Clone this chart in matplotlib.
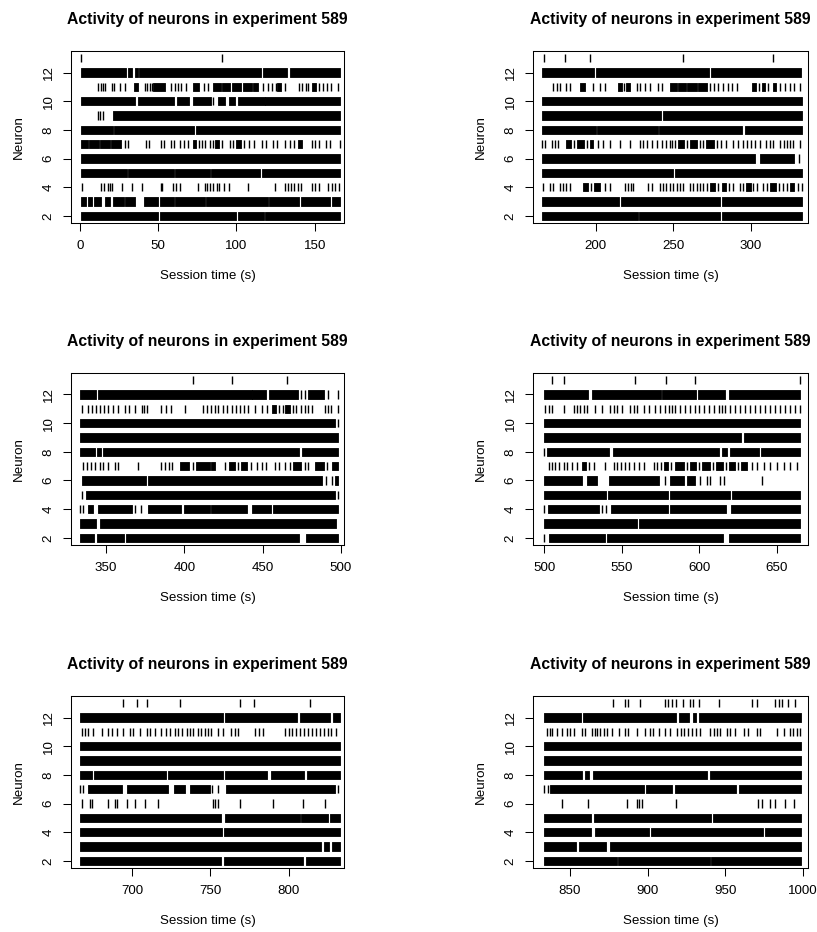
import matplotlib
matplotlib.use("Agg")
import matplotlib.pyplot as plt

plt.rcParams['font.family'] = ['Liberation Sans', 'DejaVu Sans']

# spike times (s) per neuron, one dict per session window
# a plain number is a single spike, [start, end] is a run of spikes too dense to separate
spikes_w1 = {
    13: [1.0, 90.5],
    12: [[0.5, 29.5], [30.5, 33.5], [35, 37], [38, 115.5], [117, 132.5], [134, 166]],
    11: [11.7, 13.3, 14.8, 16.2, 20.5, 22, 25.5, 29, [34.5, 37], 41.5, 43, 44.5, 46, [47, 54.5],
         58.5, 60.5, 62.5, 64.5, 68, [72, 76], 79, 81.5, [85, 90], [91, 96], [97, 103], [104, 110],
         [110.5, 114], 117, 120, 122.5, 125, [126, 128.5], 131, 140, 142, 144.5, 146, [148, 151],
         153, 155, 158, 160.7, 165],
    10: [[0.5, 35], [37, 60], [62, 70], [72, 84], 85, [88, 92.5], [95, 99], [101, 118], [118.5, 166]],
    9: [11.3, 13, 15, [21, 166]],
    8: [[0.5, 21], [22, 73], [74, 166]],
    7: [[0.5, 5], [6, 12], [13, 19], [20, 26], 28.7, 31, 42, 44, 51.5, 53.5, 58, 60, 64, 66.5, 69,
        [72, 74], 76, 78, 80, 83, 85, [86.5, 89], 91, 96, 98, [100, 103], 105, 108, 111, 116, 119,
        123.5, 126, 131, 134, 137, [139, 142], 148, 150, 153, 157.5, 160, 166],
    6: [[0.5, 166]],
    5: [[0.5, 30], [31, 60], [61, 83], [83.5, 115], [116, 166]],
    4: [1.5, 13.4, 15.1, 18.1, 19.5, 20.5, 26.6, 33.4, 39.8, 51.5, 52.5, 59.6, 61.5, 63.9, 75.6,
        79.8, 81, 83, 85, 87.5, 89, 92, 95, 107.5, 124.5, 131, 133, 135, 137, 139, 141, 148, 150,
        153, 158.5, 161, 163, 165.5],
    3: [[1, 4], [5, 8], [9, 13.5], [16, 19], [21, 28], [29, 35], [41, 50], [51, 60], [61, 80],
        [80.5, 120], [121, 140], [141, 160], [161, 166]],
    2: [[0.5, 50], [51, 100], [101, 117.5], [118.5, 166]],
}

spikes_w2 = {
    13: [166.5, 180, 196, 256.3, 314],
    12: [[165, 199], [200, 273], [274, 332.5]],
    11: [172.5, 174.6, 176.8, 181, 183.2, [189.5, 193], 198.3, 202.6, 205.8, [214.4, 216.5], 218,
         [219.5, 222], 226.2, 228.4, 231.6, 234.8, 240.2, 242.4, [247.5, 252], [253, 258],
         [259, 265], [266, 271.4], 273.5, 276, 278.9, 282.2, 285.4, 288, 290.8, [300.4, 303], 305,
         [307, 309], 311, [314.4, 316], 318.7, 322, 325, 328, 331.5],
    10: [[165, 332.7]],
    9: [[165, 242], [243, 332.7]],
    8: [[165, 200], [201, 240], [241, 294], [296, 332.7]],
    7: [165, 167, 171.4, 173.5, 175.7, [181, 184], 186, [188, 192], 194, [196, 198.3], 201.5, 204.7,
        209, 215.5, 221.9, 228.4, 230.5, 232.7, 235.9, 239.1, 242.4, 245, 247.5, 249, 251,
        [253, 257], 259, [261, 265], 267, 269, [271, 276], 278, 280.5, 284, 288.6, 291.8, 295,
        297.5, 300, 302.5, 305.8, 310, 312, 314.4, 318.7, 321, 323.5, 325.5, 327.3, 331.6],
    6: [[165, 302.5], [305.8, 328], 331],
    5: [[165, 250], [251, 332.7]],
    4: [165.6, 170.3, 172.5, 176.8, 179, 181, 183.2, [191.8, 195], 197, [199, 202.6], 205.8, 209,
        218.7, 220.5, 222.5, 224, 233.8, 236, 241.3, 243.5, 245.5, 247.7, 250, 252.5, 254.5, 256.3,
        260.6, 262.8, 265, 267, 269, 271.4, [273.5, 277], 279, [281, 284], 286, 288.6, 292.9, 295,
        [297, 300], 301.5, 303.7, 308, 310.5, [312.5, 316], 318, 320.5, 323, [325, 328], 330.5, 332.7],
    3: [[165, 215], [216, 280], [281, 332.7]],
    2: [[165, 227], [228, 280], [281, 332.7]],
}

spikes_w3 = {
    13: [405.7, 430.6, 465.4],
    12: [[333.3, 343.3], [344.8, 443], [443.5, 452.3], [454.3, 472.3], 474.8, 476.8,
         [479.3, 489.3], 491.8, 498.3],
    11: [334.4, 338.6, 341.3, 343.8, 346.3, 348.8, 351.3, 354.3, 357.8, 362, 364.8, 368.4, 372.7,
         374.3, 375.9, 385.4, 388.3, 391.8, 400.3, 412.1, 414.2, 417.3, 419.3, 421.6, 424.8, 427.3,
         430.3, 432.8, 435.3, 437.8, 440.8, 445, 449.3, 452.5, [455.7, 458.3], 460.3, 462.8,
         [464.3, 467.3], 469.3, 471.3, 474.8, 477, 479.3, 481.3, 489.7, 491.8, 494, 498.3],
    10: [[333.3, 496], 498.3],
    9: [[333.3, 498.3]],
    8: [[333.3, 343], [344.5, 347], [348, 473], [475, 498.3]],
    7: [335.4, 337.8, 340.3, 342.9, 346.1, 348.2, 351.4, 355.7, 357.8, 370.6, 385.4, 387.6, 390.3,
        392.3, [397.2, 403.3], 405.3, [407.3, 416.3], [417.3, 419.5], 425.9, [428.3, 432.3], 434.3,
        [436.3, 440.3], 442.9, 446.3, 449.3, 452.3, 457.8, 460.3, 464.2, 467.3, [469.3, 474.3],
        477, 479.3, [483.3, 489.3], 491.3, [494.3, 498.3]],
    6: [[334.4, 375.5], [376.5, 488], 490.5, 494.5, [496.5, 498.3]],
    5: [334.4, [337, 496], 498.3],
    4: [333.3, 335.5, [338.5, 341.5], [345, 366.3], 368.3, 372.5, [377, 398], [400, 416.3],
        [417, 440], [443, 455.5], [456.5, 498.3]],
    3: [[333.3, 343.5], [346, 497]],
    2: [[333.3, 342.5], [344, 361.5], [363, 473.5], [477.5, 498.3]],
}

spikes_w4 = {
    13: [505, 512.5, 558.3, 578.7, 597.4, 664.7],
    12: [[500, 528.5], [531, 575], [576, 598], [599, 616.5], [619, 665]],
    11: [500.5, 502.8, 505, 512.5, 518.9, 521, 523.2, 525.4, 527.5, 532.9, 537.2, 542.6, 544.7,
         546.9, 550.1, 555.5, 557.7, 559.8, 564.1, 567.3, 571.6, 574.8, 578.1, 580.2, 582.4, 584.5,
         587.8, 591, 594.2, 597.4, 599.6, 602.8, 606, 609.3, 612.5, 614.6, 616.8, 620, 623.2,
         626.5, 629.7, 632.9, 636.1, 639.4, 642.6, 645.8, 649, 652.3, 655.5, 658.7, 662, 665.2],
    10: [[500, 665]],
    9: [[500, 627], [628.5, 665]],
    8: [500, [502, 542], [544, 613], [614.5, 618], [620, 638.5], [640, 665]],
    7: [502.8, 505, 507.1, 509.2, 512.5, 514.6, 517.8, 521, [524.3, 527], 529, 531.8, 539.4, 544.7,
        547, 549.5, 552, 554.5, 557.6, 560.9, 564.1, 570.5, 573, 575.5, [577.5, 580], 582,
        [584, 590], 592, [594, 598], 600, [602, 607], 609, [611, 615], 617, [619, 623], 625,
        [627, 630.8], 634, 637.2, 641.5, 645.8, 650.1, 654.3, 658.7, 663],
    6: [[500, 524.3], [527.5, 534], [541.5, 573.8], 578.1, [581.3, 589.9], [592, 597.4], 600.7,
        605, 607.1, 613.6, 615.7, 640.4],
    5: [[500, 540], [541, 580], [581, 620], [621, 665]],
    4: [500, [502.5, 535], 537, 540, [543, 580], [581, 617.5], [620.5, 665]],
    3: [[500, 560], [561, 665]],
    2: [500, [503, 539], [540.5, 615.5], [619, 665]],
}

spikes_w5 = {
    13: [694.4, 702.9, 709.3, 730.6, 768.8, 778, 813.6],
    12: [[667, 758], [759.5, 805.5], [807.5, 826.5], [828.5, 832.7]],
    11: [667.8, 669.9, 672, 675.2, 680.5, 684.8, 686.9, 690.1, 694.4, 698.7, 700.7, 705, 709.3,
         711.4, 714.6, 718.8, 722, 724.2, 727.4, 729.5, 731.7, 734.8, 737, 739, 742.3, 744.3,
         746.5, 748.5, 750.5, 755, 758.2, 763.5, 765.5, 767.8, 778.4, 781, 783.7, 797.6, 800,
         802.5, 805, 807.5, 810, 812.5, 815, 817.5, 820, 822.5, 825, 827.4, 830],
    10: [[667, 833]],
    9: [[667, 833]],
    8: [[667, 674.7], [676, 721.5], [723, 757.8], [759.5, 786.5], [788.5, 810], [811.5, 833]],
    7: [667, 668.8, [672, 693.3], [696.5, 723.1], [727, 734], [736.9, 749.7], 750.8, 755,
        [760.3, 829.5], 831.7],
    6: [667.8, 673.1, 674.6, 684.8, 689.1, 690.7, 696.5, 701.8, 708.2, 716.7, 751.8, 753.3, 755,
        768.8, 790.1, 809.3, 823.1],
    5: [[667, 757], [759.3, 807.2], [808.2, 825.2], [826.3, 833]],
    4: [[667, 757.5], [759, 833]],
    3: [[667, 820.5], [822.5, 826], [828, 833]],
    2: [[667, 757], [759, 809.5], [811, 833]],
}

spikes_w6 = {
    13: [877.6, 885.6, 887.1, 895.3, 911.4, 913.5, 915.7, 918.5, 922.8, 927.5, 929.6, 932.9,
         946.4, 967.3, 970.5, 982.3, 984.5, 986.6, 990.9, 995.2],
    12: [[833.3, 857], [858.5, 918.5], [920, 926.5], [929, 931], [933, 999.2]],
    11: [835, 836.8, 838.3, 841.5, 844.7, 847.9, 850.1, 852.3, 857.6, 859.8, 864.1, 865.8, 867.3,
         869.4, 871.6, 873.7, 877, 881.3, 885.6, 887.7, 893.1, 898.5, 901.7, 903.8, 907.1, 911.4,
         914.6, 918.9, 921.3, 923.8, 926.3, 928.8, 931.3, 933.9, 940.4, 942.6, 944.8, 946.9,
         951.2, 953.3, 956.5, 961.9, 965.1, 970.5, 972.7, 983.4, 987.7, 992, 994.1, 996.3, 998.3],
    10: [[833.3, 999.2]],
    9: [[833.3, 999.2]],
    8: [[833.3, 857.5], [859.5, 862], [865, 938.5], [940.5, 999.2]],
    7: [833.3, 835.5, [837, 897.5], [899, 916], [918, 957], [959, 999.2]],
    6: [845.1, 861.9, 886.6, 893.1, 894.6, 896.3, 918.3, 971.2, 973.7, 979.1, 982.3, 988.8, 994.2],
    5: [[833.3, 863.5], [865.5, 940.8], [942.5, 999.2]],
    4: [[833.3, 863.5], [866, 901], [902.5, 974.3], [976, 999.2]],
    3: [[833.3, 854], [855.5, 873.5], [876, 999.2]],
    2: [[833.3, 880], [881, 940], [941, 999.2]],
}

windows = [spikes_w1, spikes_w2, spikes_w3, spikes_w4, spikes_w5, spikes_w6]
x_limits = [(-5.7, 168.7), (159.4, 336.8), (327.6, 502.0),
            (492.7, 670.1), (661.0, 835.4), (826.1, 1003.5)]
x_ticks = [[0, 50, 100, 150], [200, 250, 300], [350, 400, 450, 500],
           [500, 550, 600, 650], [700, 750, 800], [850, 900, 950, 1000]]
y_ticks = [2, 4, 6, 8, 10, 12]
title = "Activity of neurons in experiment 589"

W, H = 817, 932
fig = plt.figure(figsize=(W / 100, H / 100), dpi=100)

col_left = [71, 533]
col_width = [273, 275]
row_top = [51, 373, 696]
box_h = 172
half = 0.3

for i, spikes in enumerate(windows):
    r, c = divmod(i, 2)
    ax = fig.add_axes([col_left[c] / W, 1 - (row_top[r] + box_h) / H,
                       col_width[c] / W, box_h / H])
    for neuron, items in spikes.items():
        singles = [v for v in items if not isinstance(v, list)]
        runs = [(v[0], v[1] - v[0]) for v in items if isinstance(v, list)]
        if singles:
            ax.vlines(singles, neuron - half, neuron + half, color='black', lw=1.0)
        if runs:
            ax.broken_barh(runs, (neuron - half, 2 * half), facecolors='black',
                           edgecolors='black', linewidth=0.6)

    ax.set_xlim(*x_limits[i])
    ax.set_ylim(1.5, 13.5)
    ax.set_xticks(x_ticks[i])
    ax.set_yticks(y_ticks)
    ax.tick_params(axis='both', direction='out', length=5.8, width=0.75,
                   labelsize=9.6, pad=6.3)
    ax.tick_params(axis='y', labelrotation=90, pad=6)
    for lab in ax.get_yticklabels():
        lab.set_va('center')
    for s in ax.spines.values():
        s.set_linewidth(0.75)
    ax.set_title(title, fontsize=11.3, fontweight='bold', pad=19.5)
    ax.set_xlabel("Session time (s)", fontsize=9.6, labelpad=13)
    ax.set_ylabel("Neuron", fontsize=9.6, labelpad=12.5)

fig.savefig("out.png", dpi=100)
